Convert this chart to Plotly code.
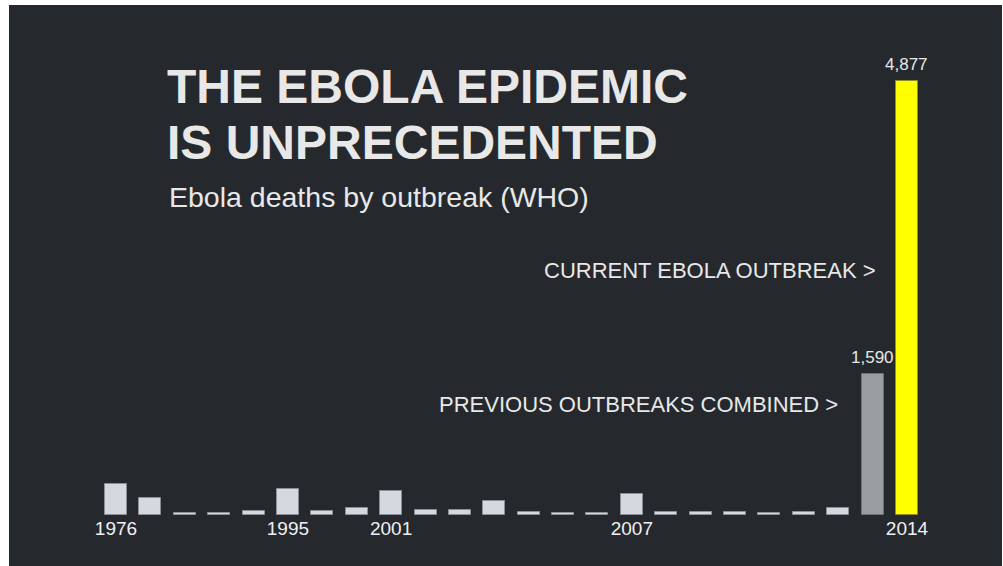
import plotly.graph_objects as go

# ---- data ----
outbreak_index = list(range(24))
deaths = [350, 190, 25, 25, 40, 290, 40, 75, 275, 60, 55, 160, 35, 25, 25, 235,
          35, 30, 35, 25, 35, 75, 1590, 4877]
bar_kind = ["past"] * 22 + ["combined", "current"]
tick_positions = [0, 5, 8, 15, 23]
tick_labels = ["1976", "1995", "2001", "2007", "2014"]
value_label_positions = [22, 23]
title_lines = ["THE EBOLA EPIDEMIC", "IS UNPRECEDENTED"]
subtitle = "Ebola deaths by outbreak (WHO)"
callouts = ["PREVIOUS OUTBREAKS COMBINED >", "CURRENT EBOLA OUTBREAK >"]

# ---- styles ----
BG = "#25292d"
fill = {"past": "#d5d9df", "combined": "#9a9da1", "current": "#ffff00"}
edge = {"past": "#8c9095", "combined": "#6e7175", "current": "#8f8f2a"}
TXT = "#e8e8e8"
FONT = "Liberation Sans, Arial, sans-serif"

fig = go.Figure()
fig.add_bar(
    x=outbreak_index,
    y=deaths,
    width=0.64,
    marker=dict(color=[fill[k] for k in bar_kind],
                line=dict(color=[edge[k] for k in bar_kind], width=1)),
    hoverinfo="skip",
)

# dark panel filling the whole plotting region
fig.add_shape(type="rect", xref="paper", yref="paper", x0=0, x1=1, y0=0, y1=1,
              fillcolor=BG, line=dict(width=0), layer="below")

Y_MAX = 5731
fig.update_layout(
    width=1003, height=566,
    margin=dict(l=9, r=1, t=5, b=0),
    paper_bgcolor="white",
    plot_bgcolor=BG,
    showlegend=False,
    bargap=0,
    xaxis=dict(range=[-3.111, 25.763], tickvals=tick_positions, ticktext=tick_labels,
               showgrid=False, zeroline=False, showline=False, ticks="",
               tickfont=dict(family=FONT, size=19, color="#f0f0f0"), fixedrange=True),
    yaxis=dict(domain=[0.0909, 1], range=[0, Y_MAX], visible=False, fixedrange=True),
)

# value labels on the last two bars
for i in value_label_positions:
    fig.add_annotation(x=outbreak_index[i], y=deaths[i], text=f"{deaths[i]:,}",
                       xref="x", yref="y", yanchor="bottom", yshift=5, showarrow=False,
                       font=dict(family=FONT, size=17, color=TXT))

# callouts
callout_y = [1247, 2753]
callout_shift = [-33, -29]
for i, txt, yy, xs in zip(value_label_positions, callouts, callout_y, callout_shift):
    fig.add_annotation(x=outbreak_index[i], y=yy, text=txt, xref="x", yref="y",
                       xanchor="right", yanchor="middle", xshift=xs, showarrow=False,
                       font=dict(family=FONT, size=22, color=TXT))

# title and subtitle (paper coords)
def py(ypx):
    return (566 - ypx) / 561

def px(xpx):
    return (xpx - 9) / 993

fig.add_annotation(x=px(165), y=py(86), xref="paper", yref="paper", text="<b>" + title_lines[0] + "</b>",
                   xanchor="left", yanchor="middle", showarrow=False,
                   font=dict(family=FONT, size=48, color=TXT))
fig.add_annotation(x=px(165), y=py(142), xref="paper", yref="paper", text="<b>" + title_lines[1] + "</b>",
                   xanchor="left", yanchor="middle", showarrow=False,
                   font=dict(family=FONT, size=48, color=TXT))
fig.add_annotation(x=px(167), y=py(197), xref="paper", yref="paper", text=subtitle,
                   xanchor="left", yanchor="middle", showarrow=False,
                   font=dict(family=FONT, size=28.5, color=TXT))

fig.write_html("out.html", config={"displayModeBar": False},
               post_script="document.body.style.margin='0';document.body.style.overflow='hidden';")
